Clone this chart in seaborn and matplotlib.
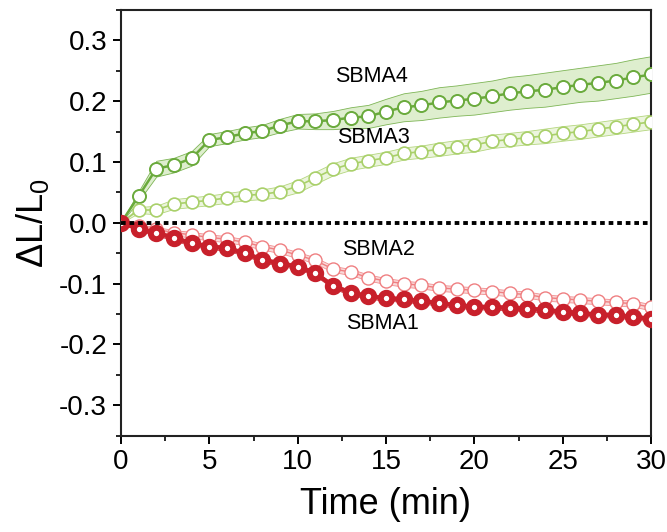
import numpy as np
import pandas as pd
import matplotlib
matplotlib.use("Agg")
import matplotlib.pyplot as plt
import seaborn as sns
from matplotlib.ticker import MultipleLocator

time_min = list(range(0, 31))

sbma4 = [0, 0.044, 0.089, 0.095, 0.106, 0.136, 0.141, 0.147, 0.151, 0.160, 0.167,
         0.167, 0.169, 0.173, 0.175, 0.183, 0.190, 0.193, 0.198, 0.201, 0.204,
         0.208, 0.213, 0.216, 0.219, 0.223, 0.227, 0.230, 0.234, 0.239, 0.244]
sbma4_err = [0, 0.008, 0.013, 0.012, 0.012, 0.010, 0.010, 0.010, 0.010, 0.011, 0.012,
             0.013, 0.015, 0.017, 0.019, 0.021, 0.023, 0.024, 0.025, 0.025, 0.026,
             0.026, 0.027, 0.027, 0.028, 0.028, 0.028, 0.029, 0.029, 0.030, 0.030]

sbma3 = [0, 0.021, 0.021, 0.031, 0.034, 0.037, 0.041, 0.045, 0.047, 0.051, 0.060,
         0.074, 0.088, 0.097, 0.102, 0.107, 0.114, 0.117, 0.121, 0.125, 0.128,
         0.134, 0.137, 0.140, 0.143, 0.147, 0.150, 0.154, 0.158, 0.162, 0.166]
sbma3_err = [0, 0.005, 0.007, 0.008, 0.008, 0.008, 0.008, 0.008, 0.008, 0.009, 0.010,
             0.010, 0.010, 0.010, 0.010, 0.010, 0.010, 0.010, 0.011, 0.011, 0.011,
             0.011, 0.011, 0.011, 0.012, 0.012, 0.012, 0.012, 0.012, 0.012, 0.012]

sbma2 = [0, -0.006, -0.011, -0.016, -0.020, -0.024, -0.027, -0.032, -0.039, -0.045, -0.053,
         -0.062, -0.076, -0.081, -0.090, -0.096, -0.100, -0.103, -0.107, -0.109, -0.111,
         -0.113, -0.116, -0.118, -0.123, -0.125, -0.127, -0.129, -0.131, -0.133, -0.139]
sbma2_err = [0, 0.003, 0.004, 0.004, 0.005, 0.005, 0.005, 0.005, 0.005, 0.005, 0.005,
             0.005, 0.005, 0.005, 0.005, 0.005, 0.005, 0.005, 0.005, 0.005, 0.005,
             0.005, 0.005, 0.005, 0.005, 0.005, 0.005, 0.005, 0.005, 0.005, 0.005]

sbma1 = [0, -0.010, -0.017, -0.025, -0.034, -0.039, -0.042, -0.050, -0.061, -0.067, -0.072,
         -0.083, -0.104, -0.115, -0.121, -0.124, -0.126, -0.129, -0.132, -0.136, -0.138,
         -0.139, -0.140, -0.141, -0.144, -0.146, -0.149, -0.151, -0.152, -0.155, -0.158]
sbma1_err = [0, 0.003, 0.004, 0.004, 0.004, 0.004, 0.004, 0.004, 0.004, 0.004, 0.004,
             0.004, 0.004, 0.004, 0.004, 0.004, 0.004, 0.004, 0.004, 0.004, 0.004,
             0.004, 0.004, 0.004, 0.004, 0.004, 0.004, 0.004, 0.004, 0.004, 0.004]

series_names = ["SBMA4", "SBMA3", "SBMA2", "SBMA1"]
label_pos = {"SBMA4": (14.2, 0.241), "SBMA3": (14.3, 0.141),
             "SBMA2": (14.6, -0.044), "SBMA1": (14.8, -0.166)}
x_ticks = [0, 5, 10, 15, 20, 25, 30]
y_ticks = [-0.3, -0.2, -0.1, 0.0, 0.1, 0.2, 0.3]

sns.set_style("ticks")
plt.rcParams["font.family"] = ["Liberation Sans", "DejaVu Sans"]
plt.rcParams["mathtext.fontset"] = "custom"
plt.rcParams["mathtext.rm"] = "Liberation Sans"
plt.rcParams["mathtext.it"] = "Liberation Sans"
plt.rcParams["mathtext.default"] = "regular"
plt.rcParams["text.color"] = "black"
plt.rcParams["axes.labelcolor"] = "black"
plt.rcParams["xtick.color"] = "black"
plt.rcParams["ytick.color"] = "black"

fig = plt.figure(figsize=(6.67, 5.32), dpi=100)
ax = fig.add_axes([121 / 667, 1 - 435.6 / 532, (651 - 121) / 667, (435.6 - 10) / 532])

styles = {
    "SBMA4": dict(data=sbma4, err=sbma4_err, color="#6aaa3c", fill="#d9ebc6", ms=9.4, mew=1.4, lw=1.8, z=3),
    "SBMA3": dict(data=sbma3, err=sbma3_err, color="#a9d06a", fill="#e9f4d8", ms=9.2, mew=1.2, lw=1.2, z=3),
    "SBMA2": dict(data=sbma2, err=sbma2_err, color="#ef7f81", fill="#f9d3d3", ms=9.4, mew=1.0, lw=1.0, z=4),
    "SBMA1": dict(data=sbma1, err=sbma1_err, color="#c8202b", fill="#e99a9c", ms=8.2, mew=4.3, lw=3.0, z=5),
}

for name in series_names:
    s = styles[name]
    vals = np.array(s["data"])
    err = np.array(s["err"])
    ax.fill_between(time_min, vals - err, vals + err, color=s["fill"], alpha=0.85,
                    edgecolor=s["color"], linewidth=0.6, zorder=s["z"] - 1)
    df = pd.DataFrame({"t": time_min, "v": vals})
    sns.lineplot(data=df, x="t", y="v", ax=ax, color=s["color"], linewidth=s["lw"],
                 marker="o", markersize=s["ms"], markerfacecolor="white",
                 markeredgecolor=s["color"], markeredgewidth=s["mew"],
                 zorder=s["z"])
    tx, ty = label_pos[name]
    ax.text(tx, ty, name, fontsize=15.5, ha="center", va="center", zorder=7, color="black")

ax.axhline(0, color="black", lw=2.8, dashes=(1.2, 1.0), zorder=6)

ax.set_xlim(0, 30)
ax.set_ylim(-0.35, 0.35)
ax.set_xticks(x_ticks)
ax.set_yticks(y_ticks)
ax.set_xticklabels([str(v) for v in x_ticks])
ax.set_yticklabels([f"{v:.1f}" for v in y_ticks])
ax.xaxis.set_minor_locator(MultipleLocator(2.5))
ax.yaxis.set_minor_locator(MultipleLocator(0.05))
ax.tick_params(which="major", direction="out", length=6, width=1.4, labelsize=20, pad=4)
ax.tick_params(which="minor", direction="out", length=3.5, width=1.2)
ax.tick_params(top=False, right=False)
for sp in ax.spines.values():
    sp.set_visible(True)
    sp.set_linewidth(1.5)
    sp.set_color("#222222")

ax.set_xlabel("Time (min)", fontsize=26, labelpad=8)
ax.set_ylabel(r"ΔL/L$_0$", fontsize=26, labelpad=6)

fig.savefig("out.png", dpi=100)
